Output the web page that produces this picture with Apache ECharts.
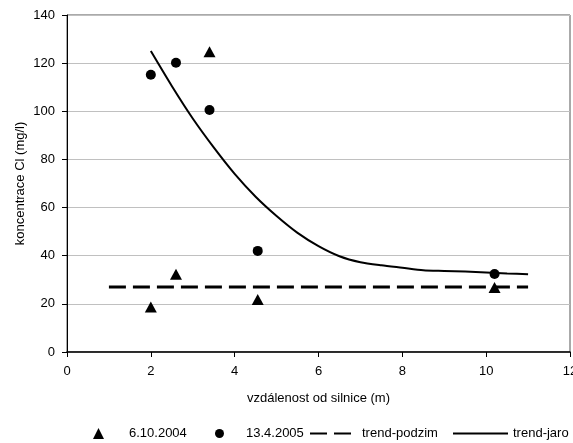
<!DOCTYPE html>
<html>
<head>
<meta charset="utf-8">
<script src="https://cdn.jsdelivr.net/npm/echarts@6/dist/echarts.min.js"></script>
<style>
  html, body { margin: 0; padding: 0; background: #fff; }
  #chart { width: 573px; height: 443px; }
</style>
</head>
<body>
<div id="chart"></div>
<script>
// data
const podzimX = [2, 2.6, 3.4, 4.55, 10.2]
const podzimY = [18.7, 32.3, 124.7, 21.8, 26.8]
const jaroX = [2, 2.6, 3.4, 4.55, 10.2]
const jaroY = [115.2, 120.2, 100.5, 42, 32.4]
const trendPodzimX = [1, 11]
const trendPodzimY = [27, 27]
const trendJaroX = [2, 2.5, 3, 3.5, 4, 4.5, 5, 5.5, 6, 6.5, 7, 7.5, 8, 8.5, 9, 9.5, 10, 10.5, 11]
const trendJaroY = [125, 110.5, 97, 85, 74, 64.5, 56.5, 49.5, 44, 39.8, 37.3, 36, 35, 34, 33.7, 33.4, 33, 32.6, 32.3]
const xTicks = [0, 2, 4, 6, 8, 10, 12]
const yTicks = [0, 20, 40, 60, 80, 100, 120, 140]

const pairs = (xs, ys) => xs.map((x, i) => [x, ys[i]])

const font = 'Liberation Sans, Arial, sans-serif'
const chart = echarts.init(document.getElementById('chart'))

const legendBase = {
  top: 427,
  padding: 0,
  itemGap: 0,
  textStyle: { fontFamily: font, fontSize: 13, color: '#000' },
}
// line legend icons always carry a symbol, hide it
const noSymbol = { color: 'rgba(0,0,0,0)', borderWidth: 0, opacity: 0 }

let option = {
  animation: false,
  grid: {
    left: 67, right: 3, top: 15, bottom: 91,
    outerBoundsMode: 'none',
    show: true, borderColor: '#555', borderWidth: 1,
  },
  xAxis: {
    type: 'value',
    min: xTicks[0],
    max: xTicks[xTicks.length - 1],
    interval: 2,
    name: 'vzdálenost od silnice (m)',
    nameLocation: 'middle',
    nameGap: 40,
    nameMoveOverlap: false,
    nameTextStyle: { fontFamily: font, fontSize: 13, color: '#000' },
    axisLine: { lineStyle: { color: '#000', width: 1.5 } },
    axisTick: { show: true, length: 5, lineStyle: { color: '#000' } },
    axisLabel: { fontFamily: font, fontSize: 13, color: '#000', margin: 13, showMaxLabel: true },
    splitLine: { show: false },
  },
  yAxis: {
    type: 'value',
    min: yTicks[0],
    max: yTicks[yTicks.length - 1],
    interval: 20,
    name: 'koncentrace Cl (mg/l)',
    nameLocation: 'middle',
    nameGap: 40,
    nameMoveOverlap: false,
    nameTextStyle: { fontFamily: font, fontSize: 13, color: '#000' },
    axisLine: { show: true, lineStyle: { color: '#000', width: 1 } },
    axisTick: { show: true, length: 5, lineStyle: { color: '#000' } },
    axisLabel: { fontFamily: font, fontSize: 13, color: '#000', margin: 12 },
    splitLine: { show: true, lineStyle: { color: '#c0c0c0', width: 1 } },
  },
  legend: [
    { ...legendBase, left: 93, data: ['6.10.2004'], itemWidth: 11, itemHeight: 11,
      textStyle: { ...legendBase.textStyle, padding: [0, 0, 0, 20] } },
    { ...legendBase, left: 215, data: ['13.4.2005'], itemWidth: 9, itemHeight: 9,
      textStyle: { ...legendBase.textStyle, padding: [0, 0, 0, 17] } },
    { ...legendBase, left: 309, data: ['trend-podzim'], itemWidth: 41, itemHeight: 10,
      itemStyle: noSymbol,
      textStyle: { ...legendBase.textStyle, padding: [0, 0, 0, 6] } },
    { ...legendBase, left: 452, data: ['trend-jaro'], itemWidth: 55, itemHeight: 10,
      itemStyle: noSymbol,
      textStyle: { ...legendBase.textStyle, padding: [0, 0, 0, 0] } },
  ],
  series: [
    {
      name: 'trend-podzim',
      type: 'line',
      data: pairs(trendPodzimX, trendPodzimY),
      showSymbol: false,
      symbol: 'none',
      itemStyle: { color: '#000' },
      lineStyle: { color: '#000', width: 3, type: [17, 7] },
      z: 1,
    },
    {
      name: 'trend-jaro',
      type: 'line',
      data: pairs(trendJaroX, trendJaroY),
      smooth: 0.25,
      showSymbol: false,
      symbol: 'none',
      itemStyle: { color: '#000' },
      lineStyle: { color: '#000', width: 2 },
      z: 1,
    },
    {
      name: '6.10.2004',
      type: 'scatter',
      symbol: 'triangle',
      symbolSize: [12, 11],
      data: pairs(podzimX, podzimY),
      itemStyle: { color: '#000', opacity: 1 },
      z: 3,
    },
    {
      name: '13.4.2005',
      type: 'scatter',
      symbol: 'circle',
      symbolSize: 10,
      data: pairs(jaroX, jaroY),
      itemStyle: { color: '#000', opacity: 1 },
      z: 3,
    },
  ],
}

option && chart.setOption(option)
</script>
</body>
</html>
